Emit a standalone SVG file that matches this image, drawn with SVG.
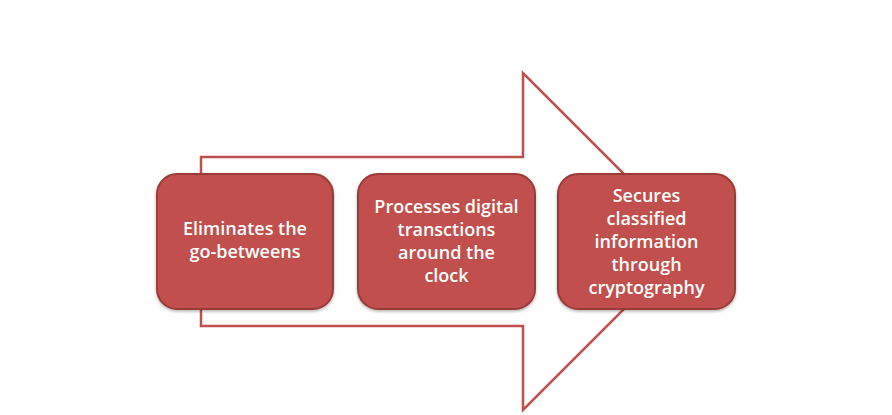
<svg xmlns="http://www.w3.org/2000/svg" width="892" height="415" viewBox="0 0 892 415">
<defs>
<style>
.box{fill:#C0504D;stroke:#9A3B38;stroke-width:2}
.lbl{fill:#FFFFFF;font-family:"Open Sans","Liberation Sans",sans-serif;font-size:18px;font-weight:600;text-anchor:middle}
.arrow{fill:none;stroke:#C0504D;stroke-width:2.5;stroke-linejoin:miter}
</style>
<filter id="sh" x="-10%" y="-10%" width="120%" height="125%">
<feDropShadow dx="0" dy="1.5" stdDeviation="1.5" flood-color="#000" flood-opacity="0.3"/>
</filter>
</defs>
<rect width="892" height="415" fill="#FFFFFF"/>
<g id="connectors">
<path class="arrow" d="M201,174 V157 H523 V73 L691.5,241.5 L523,410 V326 H201 V309"/>
</g>
<g id="node1">
<rect class="box" filter="url(#sh)" x="157" y="174" width="176" height="135" rx="20"/>
<text class="lbl" x="245" y="235">Eliminates the</text>
<text class="lbl" x="245" y="258">go-betweens</text>
</g>
<g id="node2">
<rect class="box" filter="url(#sh)" x="358" y="174" width="177" height="135" rx="20"/>
<text class="lbl" x="446.5" y="213">Processes digital</text>
<text class="lbl" x="446.5" y="236">transctions</text>
<text class="lbl" x="446.5" y="259">around the</text>
<text class="lbl" x="446.5" y="282">clock</text>
</g>
<g id="node3">
<rect class="box" filter="url(#sh)" x="558" y="174" width="177" height="135" rx="20"/>
<text class="lbl" x="646.5" y="202">Secures</text>
<text class="lbl" x="646.5" y="225">classified</text>
<text class="lbl" x="646.5" y="248">information</text>
<text class="lbl" x="646.5" y="271">through</text>
<text class="lbl" x="646.5" y="294">cryptography</text>
</g>
</svg>
